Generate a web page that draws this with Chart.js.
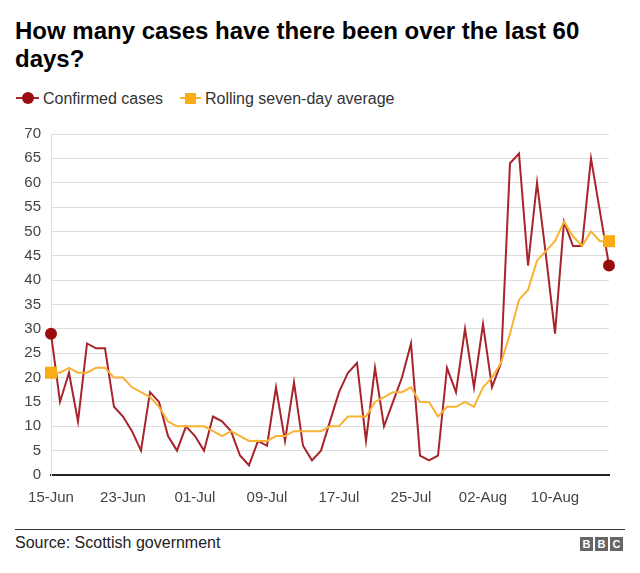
<!DOCTYPE html>
<html>
<head>
<meta charset="utf-8">
<script src="https://cdn.jsdelivr.net/npm/chart.js@4/dist/chart.umd.min.js"></script>
<style>
  html, body { margin:0; padding:0; background:#fff; }
  body { width:640px; height:573px; position:relative; overflow:hidden; font-family:"Liberation Sans", Arial, Helvetica, sans-serif; }
  #title { position:absolute; left:15px; top:17px; font-weight:bold; font-size:24px; line-height:28px; color:#000; white-space:nowrap; }
  .leg { position:absolute; top:89.5px; height:18px; font-size:16px; line-height:18px; color:#333; white-space:nowrap; }
  .legline { position:absolute; height:2px; }
  #chartbox { position:absolute; left:0; top:115px; width:640px; height:400px; }
  #rule { position:absolute; left:15px; top:529px; width:610px; height:1px; background:#333; }
  #source { position:absolute; left:15px; top:534px; font-size:16px; line-height:18px; color:#222; white-space:nowrap; }
  #bbc { position:absolute; left:580px; top:537px; display:flex; gap:2px; }
  #bbc span { display:block; width:13px; height:14px; background:#666; color:#fff; font-weight:bold; font-size:11px; line-height:14px; text-align:center; }
</style>
</head>
<body>
<div id="title">How many cases have there been over the last 60<br>days?</div>

<div class="legline" style="left:16px; top:97px; width:23px; background:#a8232a;"></div>
<div style="position:absolute; left:21.5px; top:92px; width:12px; height:12px; border-radius:50%; background:#9b0d0d;"></div>
<div class="leg" style="left:43px;">Confirmed cases</div>

<div class="legline" style="left:180px; top:97px; width:21px; background:#f9b233;"></div>
<div style="position:absolute; left:184.5px; top:92.5px; width:11px; height:11px; background:#faab18;"></div>
<div class="leg" style="left:205px;">Rolling seven-day average</div>

<div id="chartbox"><canvas id="c" width="640" height="400"></canvas></div>

<div id="rule"></div>
<div id="source">Source: Scottish government</div>
<div id="bbc"><span>B</span><span>B</span><span>C</span></div>

<script>
const dates = [
  "15-Jun","16-Jun","17-Jun","18-Jun","19-Jun","20-Jun","21-Jun","22-Jun","23-Jun","24-Jun",
  "25-Jun","26-Jun","27-Jun","28-Jun","29-Jun","30-Jun",
  "01-Jul","02-Jul","03-Jul","04-Jul","05-Jul","06-Jul","07-Jul","08-Jul","09-Jul","10-Jul",
  "11-Jul","12-Jul","13-Jul","14-Jul","15-Jul","16-Jul","17-Jul","18-Jul","19-Jul","20-Jul",
  "21-Jul","22-Jul","23-Jul","24-Jul","25-Jul","26-Jul","27-Jul","28-Jul","29-Jul","30-Jul","31-Jul",
  "01-Aug","02-Aug","03-Aug","04-Aug","05-Aug","06-Aug","07-Aug","08-Aug","09-Aug","10-Aug",
  "11-Aug","12-Aug","13-Aug","14-Aug","15-Aug","16-Aug"
];
const tickLabels = ["15-Jun","23-Jun","01-Jul","09-Jul","17-Jul","25-Jul","02-Aug","10-Aug"];
const confirmedCases = [
  29,15,21,11,27,26,26,14,12,9,
  5,17,15,8,5,10,8,5,12,11,
  9,4,2,7,6,18,7,19,6,3,
  5,11,17,21,23,7,22,10,15,20,
  27,4,3,4,22,17,30,18,31,18,
  23,64,66,43,60,45,29,52,47,47,
  65,54,43
];
const rollingAverage = [
  21,21,22,21,21,22,22,20,20,18,
  17,16,14,11,10,10,10,10,9,8,
  9,8,7,7,7,8,8,9,9,9,
  9,10,10,12,12,12,15,16,17,17,
  18,15,15,12,14,14,15,14,18,20,
  23,29,36,38,44,46,48,52,49,47,
  50,48,48
];
const yMin = 0, yMax = 70, yStep = 5;

const lastIdx = dates.length - 1;
const endsOnly = (r) => (ctx) => (ctx.dataIndex === 0 || ctx.dataIndex === lastIdx) ? r : 0;

new Chart(document.getElementById('c'), {
  type: 'line',
  data: {
    labels: dates,
    datasets: [
      {
        label: 'Rolling seven-day average',
        data: rollingAverage,
        borderColor: '#f9b233',
        backgroundColor: '#faab18',
        borderWidth: 2,
        pointStyle: 'rect',
        pointRadius: endsOnly(8.5),
        pointBorderWidth: 0,
        pointHoverRadius: 0,
        tension: 0,
        clip: false
      },
      {
        label: 'Confirmed cases',
        data: confirmedCases,
        borderColor: '#a8232a',
        backgroundColor: '#9b0d0d',
        borderWidth: 2,
        pointStyle: 'circle',
        pointRadius: endsOnly(6),
        pointBorderWidth: 0,
        pointHoverRadius: 0,
        tension: 0,
        clip: false
      }
    ]
  },
  options: {
    responsive: false,
    animation: false,
    devicePixelRatio: 1,
    layout: { padding: { top: 18, right: 31, left: 0, bottom: 0 } },
    plugins: { legend: { display: false }, title: { display: false }, tooltip: { enabled: false } },
    events: [],
    scales: {
      x: {
        type: 'category',
        grid: { display: false, drawTicks: false },
        border: { display: true, color: '#222', width: 2 },
        ticks: {
          autoSkip: false,
          maxRotation: 0,
          minRotation: 0,
          padding: 14,
          color: '#444',
          font: { family: '"Liberation Sans", Arial, sans-serif', size: 15 },
          callback: function(value, index) {
            const lab = this.getLabelForValue(value);
            return tickLabels.includes(lab) ? lab : '';
          }
        },
        afterFit: (s) => { s.height = 40; }
      },
      y: {
        min: yMin, max: yMax,
        grid: {
          drawTicks: false,
          color: (ctx) => ctx.tick && ctx.tick.value === 0 ? 'rgba(0,0,0,0)' : '#dddddd',
          lineWidth: 1
        },
        border: { display: true, color: '#dddddd', width: 1 },
        ticks: {
          stepSize: yStep,
          padding: 10,
          color: '#444',
          font: { family: '"Liberation Sans", Arial, sans-serif', size: 15 }
        },
        afterFit: (s) => { s.width = 51; }
      }
    }
  }
});
</script>
</body>
</html>
